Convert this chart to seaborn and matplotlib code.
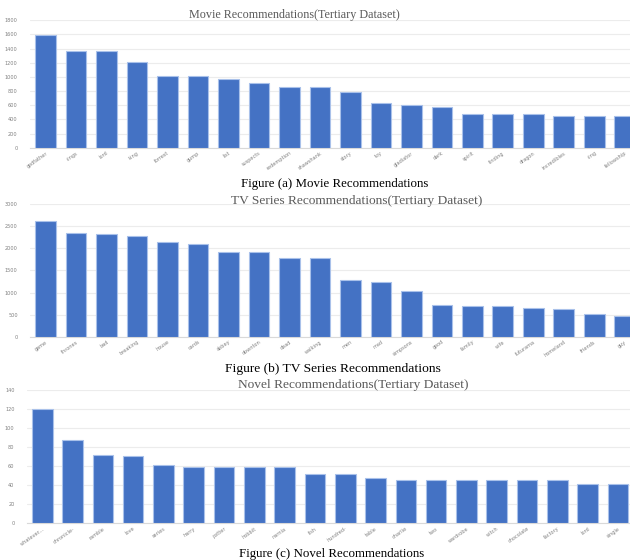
import pandas as pd
import seaborn as sns
import matplotlib.pyplot as plt

# Movie recommendations
movie_terms = ["godfather", "rings", "lord", "king", "forrest", "gump", "list", "suspects",
               "redemption", "shawshank", "story", "toy", "gladiator", "dark", "spirit",
               "finding", "dragon", "incredibles", "ring", "fellowship"]
movie_counts = [1590, 1370, 1360, 1212, 1010, 1010, 967, 921, 862, 862,
                781, 638, 608, 576, 476, 476, 476, 448, 448, 448]

# TV series recommendations
tv_terms = ["game", "thrones", "bad", "breaking", "house", "cards", "abbey", "downton",
            "dead", "walking", "men", "mad", "simpsons", "good", "family", "wife",
            "futurama", "homeland", "friends", "guy"]
tv_counts = [2614, 2350, 2327, 2282, 2145, 2092, 1910, 1910, 1775, 1775,
             1286, 1240, 1043, 712, 697, 690, 659, 636, 515, 470]

# Novel recommendations
novel_terms = ["whatever...", "chronicle-", "ramble", "love", "series", "harry", "potter",
               "hobbit", "narnia", "fish", "hundred-", "table", "charlie", "two",
               "wardrobe", "witch", "chocolate", "factory", "lord", "single"]
novel_counts = [120, 87.5, 71.7, 70.6, 61.6, 59.5, 59.5, 59, 59, 51.5,
                51.5, 47.9, 45.5, 45.5, 45.5, 45.5, 45.2, 45, 41.6, 40.8]

sns.set_style("white")
plt.rcParams["font.family"] = ["DejaVu Sans"]

fig = plt.figure(figsize=(6.3, 5.6), dpi=100)

panels = [
    (movie_terms, movie_counts, 1800, 200, [0.048, 0.736, 0.968, 0.228],
     "Movie Recommendations(Tertiary Dataset)", 8.7, 0.468, 0.973,
     "Figure (a) Movie Recommendations", 9.3, 0.532, 0.672),
    (tv_terms, tv_counts, 3000, 500, [0.048, 0.399, 0.968, 0.236],
     "TV Series Recommendations(Tertiary Dataset)", 9.6, 0.566, 0.641,
     "Figure (b) TV Series Recommendations", 9.7, 0.528, 0.341),
    (novel_terms, novel_counts, 140, 20, [0.043, 0.0655, 0.962, 0.238],
     "Novel Recommendations(Tertiary Dataset)", 9.6, 0.56, 0.313,
     "Figure (c) Novel Recommendations", 9.3, 0.527, 0.011),
]

for terms, counts, ymax, step, rect, title, tsize, tx, ty, caption, csize, cx, cy in panels:
    ax = fig.add_axes(rect)
    df = pd.DataFrame({"term": terms, "count": counts})
    sns.barplot(data=df, x="term", y="count", color="#4472C4", saturation=1,
                width=0.68, edgecolor="#a9c1ea", linewidth=0.8, ax=ax, zorder=3)
    ax.set_ylim(0, ymax)
    ax.set_xlim(-0.5, len(terms) - 0.5)
    ax.set_yticks(range(0, ymax + 1, step))
    ax.yaxis.grid(True, color="#ececec", linewidth=0.8, zorder=0)
    ax.set_xlabel("")
    ax.set_ylabel("")
    for side in ["top", "right", "left"]:
        ax.spines[side].set_visible(False)
    ax.spines["bottom"].set_color("#d9d9d9")
    ax.tick_params(axis="y", labelsize=3.6, labelcolor="#808080", length=0, pad=9)
    ax.tick_params(axis="x", labelsize=3.6, labelcolor="#808080", length=0, pad=2)
    ax.set_xticks(range(len(terms)))
    ax.set_xticklabels(terms, rotation=35, ha="right", rotation_mode="anchor")
    fig.text(tx, ty, title, ha="center", va="center", fontsize=tsize,
             color="#595959", family="Liberation Serif")
    fig.text(cx, cy, caption, ha="center", va="center", fontsize=csize,
             color="black", family="Liberation Serif")

plt.savefig("out.png", dpi=100)
